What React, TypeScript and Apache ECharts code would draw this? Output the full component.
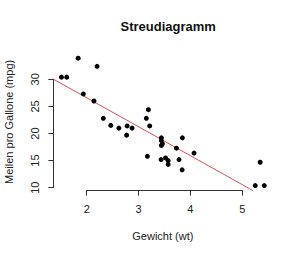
import React, { useEffect, useRef } from "react";
import * as echarts from "echarts";

// mtcars: weight (1000 lbs) and miles per gallon
const wt = [2.62, 2.875, 2.32, 3.215, 3.44, 3.46, 3.57, 3.19, 3.15, 3.44, 3.44, 4.07, 3.73, 3.78, 5.25, 5.424, 5.345, 2.2, 1.615, 1.835, 2.465, 3.52, 3.435, 3.84, 3.845, 1.935, 2.14, 1.513, 3.17, 2.77, 3.57, 2.78];
const mpg = [21.0, 21.0, 22.8, 21.4, 18.7, 18.1, 14.3, 24.4, 22.8, 19.2, 17.8, 16.4, 17.3, 15.2, 10.4, 10.4, 14.7, 32.4, 30.4, 33.9, 21.5, 15.5, 15.2, 13.3, 19.2, 27.3, 26.0, 30.4, 15.8, 19.7, 15.0, 21.4];
// fitted regression line endpoints (clipped to the plot region)
const fitX = [1.357, 5.207];
const fitY = [30.03, 9.46];
const xTicks = [2, 3, 4, 5];
const yTicks = [10, 15, 20, 25, 30];
const plotX = [1.357, 5.58];
const plotY = [9.46, 34.84];

export default function App() {
  const ref = useRef<HTMLDivElement>(null);
  useEffect(() => {
    const chart = echarts.init(ref.current!, null, { renderer: "svg" });
    const font = "Liberation Sans, Arial, Helvetica, sans-serif";
    const axisCol = "#333";
    const txtCol = "#222";
    chart.setOption({
      animation: false,
      backgroundColor: "#fff",
      title: {
        text: "Streudiagramm",
        left: 115.5,
        top: 15,
        textStyle: { fontFamily: font, fontSize: 13, fontWeight: "bold", color: "#111" },
      },
      grid: [
        { left: 53.35, top: 53.07, width: 219, height: 137.6, containLabel: false, outerBoundsMode: "none" },
        { left: 86.7, top: 53.07, width: 155.6, height: 137.6, containLabel: false, outerBoundsMode: "none" },
        { left: 53.35, top: 79.3, width: 219, height: 108.4, containLabel: false, outerBoundsMode: "none" },
      ],
      xAxis: [
        {
          gridIndex: 0, type: "value", min: plotX[0], max: plotX[1],
          axisLine: { show: false }, axisTick: { show: false }, axisLabel: { show: false }, splitLine: { show: false },
          name: "Gewicht (wt)", nameLocation: "middle", nameGap: 40,
          nameTextStyle: { fontFamily: font, fontSize: 11, color: txtCol },
        },
        {
          gridIndex: 1, type: "value", min: xTicks[0], max: xTicks[xTicks.length - 1], interval: 1,
          axisLine: { show: true, lineStyle: { color: axisCol, width: 1 } },
          axisTick: { show: true, length: 5, lineStyle: { color: axisCol } },
          axisLabel: { fontFamily: font, fontSize: 11, color: txtCol, margin: 13 },
          splitLine: { show: false },
        },
        { gridIndex: 2, type: "value", show: false, min: 0, max: 1 },
      ],
      yAxis: [
        {
          gridIndex: 0, type: "value", min: plotY[0], max: plotY[1],
          axisLine: { show: false }, axisTick: { show: false }, axisLabel: { show: false }, splitLine: { show: false },
          name: "Meilen pro Gallone (mpg)", nameLocation: "middle", nameGap: 39, nameRotate: 90,
          nameTextStyle: { fontFamily: font, fontSize: 11, color: txtCol },
        },
        { gridIndex: 1, type: "value", show: false, min: 0, max: 1 },
        {
          gridIndex: 2, type: "value", min: yTicks[0], max: yTicks[yTicks.length - 1], interval: 5,
          axisLine: { show: true, lineStyle: { color: axisCol, width: 1 } },
          axisTick: { show: true, length: 5, lineStyle: { color: axisCol } },
          axisLabel: { fontFamily: font, fontSize: 11, color: txtCol, rotate: 90, margin: 13 },
          splitLine: { show: false },
        },
      ],
      series: [
        {
          type: "line",
          xAxisIndex: 0, yAxisIndex: 0,
          data: fitX.map((x, i) => [x, fitY[i]]),
          showSymbol: false,
          symbol: "none",
          lineStyle: { color: "#d9534f", width: 1 },
          z: 1,
        },
        {
          type: "scatter",
          xAxisIndex: 0, yAxisIndex: 0,
          data: wt.map((x, i) => [x, mpg[i]]),
          symbolSize: 5,
          itemStyle: { color: "#000", opacity: 1 },
          z: 2,
        },
      ],
    });
    return () => chart.dispose();
  }, []);
  return <div ref={ref} style={{ width: 300, height: 257, position: "absolute", left: 0, top: 0 }} />;
}
